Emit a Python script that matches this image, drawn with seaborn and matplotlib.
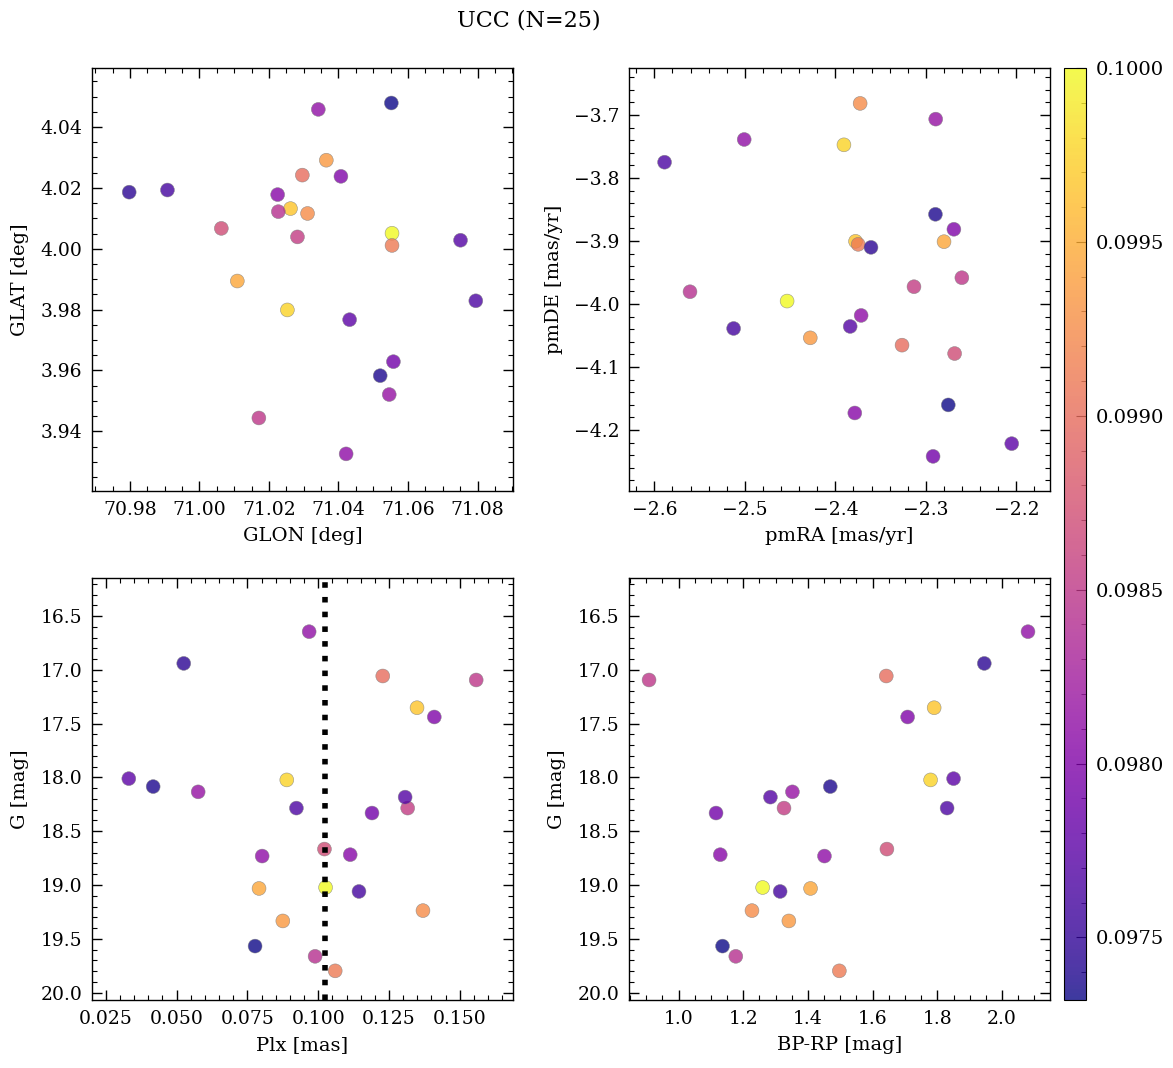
import numpy as np
import pandas as pd
import matplotlib
matplotlib.use("Agg")
import matplotlib.pyplot as plt
import seaborn as sns
from matplotlib.ticker import MultipleLocator, AutoMinorLocator, FormatStrFormatter

# Member stars
glon = [71.0554, 71.0253, 71.0262, 71.0109, 71.0365, 71.0311, 71.0554, 71.0296,
        71.0063, 71.0282, 71.0171, 71.0227, 71.0546, 71.0342, 71.0422, 71.0225,
        71.0407, 71.0558, 71.0432, 71.0751, 71.0795, 70.9908, 70.9798, 71.0520,
        71.0552]
glat = [4.0051, 3.9799, 4.0132, 3.9894, 4.0291, 4.0116, 4.0011, 4.0242,
        4.0067, 4.0039, 3.9444, 4.0122, 3.9521, 4.0458, 3.9326, 4.0178,
        4.0238, 3.9629, 3.9767, 4.0028, 3.9829, 4.0193, 4.0186, 3.9583,
        4.0479]
pmra = [-2.4533, -2.3905, -2.3777, -2.2799, -2.4277, -2.3726, -2.3748, -2.3263,
        -2.2682, -2.3131, -2.2602, -2.5606, -2.2891, -2.5007, -2.3715, -2.3785,
        -2.2690, -2.2920, -2.2051, -2.3836, -2.5887, -2.5124, -2.3606, -2.2894,
        -2.2752]
pmde = [-3.9954, -3.7473, -3.9005, -3.9011, -4.0538, -3.6815, -3.9053, -4.0654,
        -4.0787, -3.9726, -3.9583, -3.9806, -3.7065, -3.7388, -4.0182, -4.1731,
        -3.8814, -4.2420, -4.2218, -4.0357, -3.7749, -4.0389, -3.9101, -3.8576,
        -4.1603]
plx = [0.1026, 0.0889, 0.1349, 0.0791, 0.0875, 0.1370, 0.1060, 0.1228,
       0.1022, 0.1316, 0.1558, 0.0989, 0.0576, 0.0968, 0.0802, 0.1113,
       0.1410, 0.1190, 0.0331, 0.1307, 0.0923, 0.1144, 0.0525, 0.0417,
       0.0777]
gmag = [19.023, 18.023, 17.352, 19.032, 19.334, 19.238, 19.798, 17.057,
        18.666, 18.285, 17.094, 19.663, 18.134, 16.645, 18.731, 18.718,
        17.438, 18.331, 18.011, 18.183, 18.285, 19.060, 16.940, 18.085,
        19.568]
bprp = [1.260, 1.779, 1.790, 1.408, 1.341, 1.227, 1.497, 1.642,
        1.644, 1.326, 0.909, 1.177, 1.352, 2.080, 1.451, 1.129,
        1.708, 1.116, 1.850, 1.284, 1.830, 1.314, 1.945, 1.469,
        1.136]
prob = [0.10000, 0.09976, 0.09966, 0.09945, 0.09935, 0.09925, 0.09910, 0.09900,
        0.09870, 0.09855, 0.09850, 0.09842, 0.09815, 0.09812, 0.09810, 0.09805,
        0.09800, 0.09790, 0.09775, 0.09770, 0.09765, 0.09760, 0.09745, 0.09738,
        0.09732]
plx_ref = 0.1023

df = pd.DataFrame({"GLON": glon, "GLAT": glat, "pmRA": pmra, "pmDE": pmde,
                   "Plx": plx, "G": gmag, "BP-RP": bprp, "prob": prob})

sns.set_style("ticks", {"axes.edgecolor": "black", "text.color": "black",
                        "axes.labelcolor": "black", "xtick.color": "black",
                        "ytick.color": "black"})
plt.rcParams["font.family"] = "serif"
plt.rcParams["font.serif"] = ["DejaVu Serif"]
plt.rcParams["font.size"] = 14

W, H = 1173, 1068
fig = plt.figure(figsize=(W / 100, H / 100), dpi=100)

def px_axes(l, t, r, b):
    return fig.add_axes([l / W, 1 - b / H, (r - l) / W, (b - t) / H])

ax1 = px_axes(92, 68, 513, 491)
ax2 = px_axes(629, 68, 1050, 491)
ax3 = px_axes(92, 578, 513, 1000)
ax4 = px_axes(629, 578, 1050, 1000)
cax = px_axes(1064, 68, 1086, 1000)

vmin, vmax = min(prob), max(prob)
kw = dict(data=df, hue="prob", palette="plasma", hue_norm=(vmin, vmax),
          s=100, alpha=0.8, edgecolor="grey", linewidth=0.4, legend=False)

sns.scatterplot(x="GLON", y="GLAT", ax=ax1, **kw)
sns.scatterplot(x="pmRA", y="pmDE", ax=ax2, **kw)
sns.scatterplot(x="Plx", y="G", ax=ax3, **kw)
sns.scatterplot(x="BP-RP", y="G", ax=ax4, **kw)
ax3.axvline(plx_ref, color="black", ls=":", lw=4, zorder=3)

ax1.set(xlim=(70.9691, 71.0902), ylim=(3.9204, 4.0594))
ax2.set(xlim=(-2.628, -2.1628), ylim=(-4.297, -3.6253))
ax3.set(xlim=(0.0201, 0.1688), ylim=(20.069, 16.146))
ax4.set(xlim=(0.847, 2.148), ylim=(20.069, 16.146))

labels = [("GLON [deg]", "GLAT [deg]"), ("pmRA [mas/yr]", "pmDE [mas/yr]"),
          ("Plx [mas]", "G [mag]"), ("BP-RP [mag]", "G [mag]")]
majors = [(0.02, 0.02), (0.1, 0.1), (0.025, 0.5), (0.2, 0.5)]
for ax, (mx, my), (lx, ly) in zip([ax1, ax2, ax3, ax4], majors, labels):
    ax.set_xlabel(lx, fontsize=14, labelpad=6)
    ax.set_ylabel(ly, fontsize=14, labelpad=8)
    ax.xaxis.set_major_locator(MultipleLocator(mx))
    ax.yaxis.set_major_locator(MultipleLocator(my))
    ax.xaxis.set_minor_locator(AutoMinorLocator())
    ax.yaxis.set_minor_locator(AutoMinorLocator())
    ax.tick_params(which="both", direction="in", top=True, right=True,
                   labelsize=13.5, pad=7, color="black")
    ax.tick_params(which="major", length=7, width=1)
    ax.tick_params(which="minor", length=3.5, width=0.8)
    for sp in ax.spines.values():
        sp.set_linewidth(1)
        sp.set_color("black")
ax3.xaxis.set_major_formatter(FormatStrFormatter("%.3f"))

sm = plt.cm.ScalarMappable(cmap="plasma", norm=plt.Normalize(vmin, vmax))
cb = fig.colorbar(sm, cax=cax, alpha=0.8)
cb.set_ticks([0.0975, 0.0980, 0.0985, 0.0990, 0.0995, 0.1000])
cb.ax.yaxis.set_major_formatter(FormatStrFormatter("%.4f"))
cb.ax.yaxis.set_minor_locator(MultipleLocator(0.0001))
cb.ax.tick_params(which="both", direction="in", labelsize=14, pad=7)
cb.ax.tick_params(which="major", length=7)
cb.ax.tick_params(which="minor", length=3.5)
cb.outline.set_edgecolor("black")

fig.suptitle("UCC (N=25)", x=0.451, y=0.981, va="center", fontsize=16)
fig.savefig("out.png", dpi=100)
